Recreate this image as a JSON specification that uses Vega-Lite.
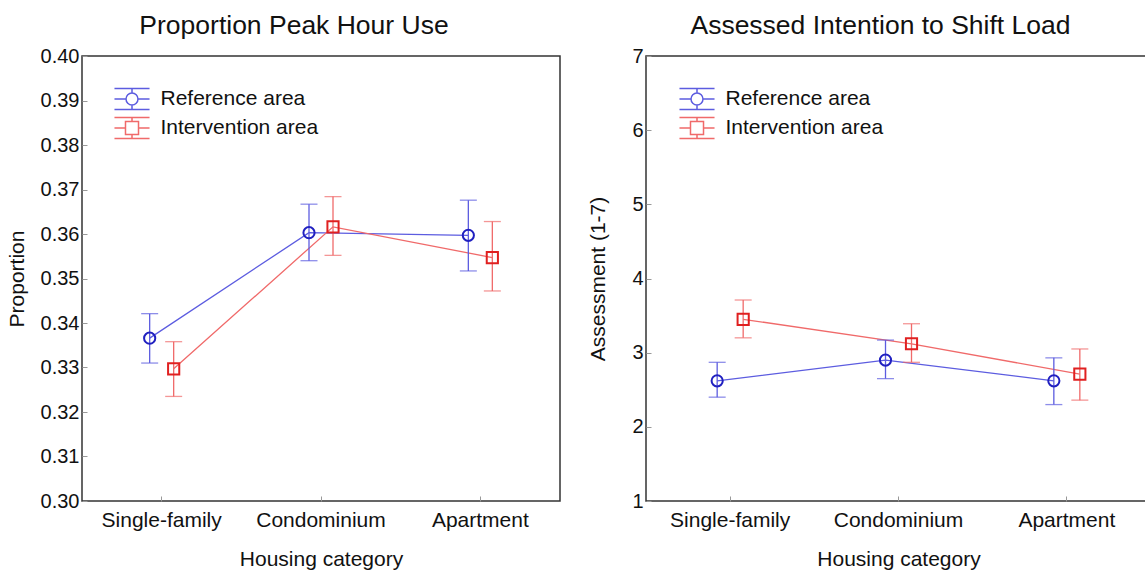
{
  "$schema": "https://vega.github.io/schema/vega-lite/v6.json",
  "padding": {"left": 5, "top": 11, "right": 0, "bottom": 0},
  "spacing": 26,
  "config": {
    "font": "Liberation Sans",
    "view": {"stroke": "#333333", "strokeWidth": 1.5},
    "axis": {"labelFontSize": 20, "titleFontSize": 21, "titleFontWeight": "normal", "labelColor": "#111111", "titleColor": "#111111", "domain": false, "grid": false, "tickColor": "#999999", "tickSize": -5, "labelPadding": 8},
    "axisX": {"labelFontSize": 21, "labelPadding": 13, "titlePadding": 18},
    "title": {"fontSize": 26.5, "fontWeight": "normal", "color": "#111111", "offset": 7},
    "legend": {"labelFontSize": 21, "labelColor": "#111111", "padding": 0}
  },
  "datasets": {
    "peak": [
      {"housing": "Single-family", "area": "Reference area", "mean": 0.3366, "lo": 0.3310, "hi": 0.3421},
      {"housing": "Condominium", "area": "Reference area", "mean": 0.3603, "lo": 0.3540, "hi": 0.3667},
      {"housing": "Apartment", "area": "Reference area", "mean": 0.3597, "lo": 0.3517, "hi": 0.3676},
      {"housing": "Single-family", "area": "Intervention area", "mean": 0.3297, "lo": 0.3235, "hi": 0.3358},
      {"housing": "Condominium", "area": "Intervention area", "mean": 0.3616, "lo": 0.3552, "hi": 0.3684},
      {"housing": "Apartment", "area": "Intervention area", "mean": 0.3547, "lo": 0.3472, "hi": 0.3628}
    ],
    "shift": [
      {"housing": "Single-family", "area": "Reference area", "mean": 2.62, "lo": 2.40, "hi": 2.87},
      {"housing": "Condominium", "area": "Reference area", "mean": 2.90, "lo": 2.65, "hi": 3.17},
      {"housing": "Apartment", "area": "Reference area", "mean": 2.62, "lo": 2.30, "hi": 2.93},
      {"housing": "Single-family", "area": "Intervention area", "mean": 3.45, "lo": 3.20, "hi": 3.71},
      {"housing": "Condominium", "area": "Intervention area", "mean": 3.12, "lo": 2.87, "hi": 3.39},
      {"housing": "Apartment", "area": "Intervention area", "mean": 2.71, "lo": 2.36, "hi": 3.05}
    ]
  },
  "resolve": {
    "scale": {"x": "independent", "y": "independent", "xOffset": "independent", "color": "independent", "shape": "independent", "stroke": "independent"},
    "legend": {"color": "independent", "shape": "independent", "stroke": "independent"}
  },
  "hconcat": [
    {
      "width": 478,
      "height": 445,
      "title": {"text": "Proportion Peak Hour Use", "dx": -27},
      "data": {"name": "peak"},
      "encoding": {
        "x": {"field": "housing", "type": "nominal", "sort": ["Single-family", "Condominium", "Apartment"], "scale": {"type": "band", "paddingInner": 0, "paddingOuter": 0}, "axis": {"title": "Housing category", "labelAngle": 0}},
        "xOffset": {"field": "area", "type": "nominal", "sort": ["Reference area", "Intervention area"], "scale": {"type": "band", "paddingInner": 0, "paddingOuter": 0, "range": [55.67, 103.67]}}
      },
      "layer": [
        {
          "mark": {"type": "line", "strokeWidth": 1.3},
          "encoding": {
            "y": {"field": "mean", "type": "quantitative", "scale": {"domain": [0.3, 0.4], "zero": false, "nice": false}, "axis": {"title": "Proportion", "values": [0.3, 0.31, 0.32, 0.33, 0.34, 0.35, 0.36, 0.37, 0.38, 0.39, 0.4], "format": ".2f", "titlePadding": 13}},
            "color": {"field": "area", "type": "nominal", "scale": {"domain": ["Reference area", "Intervention area"], "range": ["#5c5ce0", "#f06a6a"]}, "legend": {"title": null, "orient": "none", "legendX": 38.5, "legendY": 31.5, "symbolSize": 441, "rowPadding": 2, "labelOffset": 17, "symbolStrokeWidth": 1.5, "encode": {"symbols": {"update": {"shape": {"signal": "datum.value === 'Reference area' ? 'M-1.67,-1H1.67M-1.67,1H1.67M0,-1V-0.57M0,0.57V1M-1.67,0H-0.57M0.57,0H1.67M-0.57,0A0.57,0.57,0,1,1,0.57,0A0.57,0.57,0,1,1,-0.57,0' : 'M-1.67,-1H1.67M-1.67,1H1.67M0,-1V-0.62M0,0.62V1M-1.67,0H-0.62M0.62,0H1.67M-0.62,-0.62H0.62V0.62H-0.62Z'"}, "fillOpacity": {"value": 0}, "size": {"value": 441}, "strokeWidth": {"value": 1.5}}}}}}
          }
        },
        {
          "mark": {"type": "rule", "strokeWidth": 1.3},
          "encoding": {
            "y": {"field": "lo", "type": "quantitative"},
            "y2": {"field": "hi"},
            "color": {"field": "area", "type": "nominal"}
          }
        },
        {
          "mark": {"type": "tick", "size": 17, "thickness": 1.3},
          "encoding": {
            "y": {"field": "lo", "type": "quantitative"},
            "color": {"field": "area", "type": "nominal"}
          }
        },
        {
          "mark": {"type": "tick", "size": 17, "thickness": 1.3},
          "encoding": {
            "y": {"field": "hi", "type": "quantitative"},
            "color": {"field": "area", "type": "nominal"}
          }
        },
        {
          "mark": {"type": "point", "filled": false, "strokeWidth": 2, "opacity": 1},
          "encoding": {
            "y": {"field": "mean", "type": "quantitative"},
            "shape": {"field": "area", "type": "nominal", "scale": {"domain": ["Intervention area", "Reference area"], "range": ["square", "circle"]}, "legend": null},
            "stroke": {"field": "area", "type": "nominal", "scale": {"domain": ["Intervention area", "Reference area"], "range": ["#e02020", "#2020c0"]}, "legend": null},
            "size": {"value": 125}
          }
        }
      ]
    },
    {
      "width": 505,
      "height": 445,
      "title": {"text": "Assessed Intention to Shift Load", "dx": -18},
      "data": {"name": "shift"},
      "encoding": {
        "x": {"field": "housing", "type": "nominal", "sort": ["Single-family", "Condominium", "Apartment"], "scale": {"type": "band", "paddingInner": 0, "paddingOuter": 0}, "axis": {"title": "Housing category", "labelAngle": 0}},
        "xOffset": {"field": "area", "type": "nominal", "sort": ["Reference area", "Intervention area"], "scale": {"type": "band", "paddingInner": 0, "paddingOuter": 0, "range": [58.17, 110.17]}}
      },
      "layer": [
        {
          "mark": {"type": "line", "strokeWidth": 1.3},
          "encoding": {
            "y": {"field": "mean", "type": "quantitative", "scale": {"domain": [1, 7], "zero": false, "nice": false}, "axis": {"title": "Assessment (1-7)", "values": [1, 2, 3, 4, 5, 6, 7], "format": "d", "titlePadding": 23}},
            "color": {"field": "area", "type": "nominal", "scale": {"domain": ["Reference area", "Intervention area"], "range": ["#5c5ce0", "#f06a6a"]}, "legend": {"title": null, "orient": "none", "legendX": 39.5, "legendY": 31.5, "symbolSize": 441, "rowPadding": 2, "labelOffset": 17, "symbolStrokeWidth": 1.5, "encode": {"symbols": {"update": {"shape": {"signal": "datum.value === 'Reference area' ? 'M-1.67,-1H1.67M-1.67,1H1.67M0,-1V-0.57M0,0.57V1M-1.67,0H-0.57M0.57,0H1.67M-0.57,0A0.57,0.57,0,1,1,0.57,0A0.57,0.57,0,1,1,-0.57,0' : 'M-1.67,-1H1.67M-1.67,1H1.67M0,-1V-0.62M0,0.62V1M-1.67,0H-0.62M0.62,0H1.67M-0.62,-0.62H0.62V0.62H-0.62Z'"}, "fillOpacity": {"value": 0}, "size": {"value": 441}, "strokeWidth": {"value": 1.5}}}}}}
          }
        },
        {
          "mark": {"type": "rule", "strokeWidth": 1.3},
          "encoding": {
            "y": {"field": "lo", "type": "quantitative"},
            "y2": {"field": "hi"},
            "color": {"field": "area", "type": "nominal"}
          }
        },
        {
          "mark": {"type": "tick", "size": 17, "thickness": 1.3},
          "encoding": {
            "y": {"field": "lo", "type": "quantitative"},
            "color": {"field": "area", "type": "nominal"}
          }
        },
        {
          "mark": {"type": "tick", "size": 17, "thickness": 1.3},
          "encoding": {
            "y": {"field": "hi", "type": "quantitative"},
            "color": {"field": "area", "type": "nominal"}
          }
        },
        {
          "mark": {"type": "point", "filled": false, "strokeWidth": 2, "opacity": 1},
          "encoding": {
            "y": {"field": "mean", "type": "quantitative"},
            "shape": {"field": "area", "type": "nominal", "scale": {"domain": ["Intervention area", "Reference area"], "range": ["square", "circle"]}, "legend": null},
            "stroke": {"field": "area", "type": "nominal", "scale": {"domain": ["Intervention area", "Reference area"], "range": ["#e02020", "#2020c0"]}, "legend": null},
            "size": {"value": 125}
          }
        }
      ]
    }
  ]
}
